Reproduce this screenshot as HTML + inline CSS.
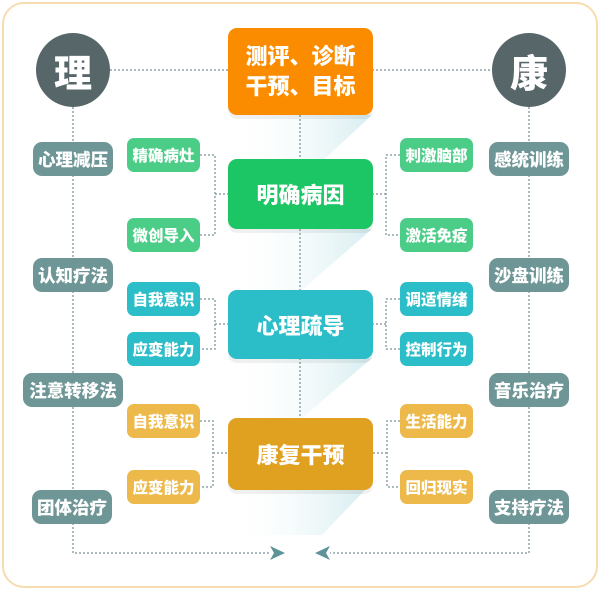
<!DOCTYPE html>
<html><head><meta charset="utf-8"><style>
body{margin:0;width:600px;height:590px;background:#fff;position:relative;overflow:hidden;font-family:"Liberation Sans","Noto Sans CJK SC",sans-serif;}
.b{position:absolute;color:#fff;font-weight:900;display:flex;align-items:center;justify-content:center;border-radius:8px;white-space:nowrap;}
.s{width:73px;height:34px;font-size:15.5px;border-radius:7px;}
.g{background:#6f9696;height:34px;font-size:17.5px;border-radius:9px;}
.big{left:228px;width:145px;font-size:22px;border-radius:9px;box-shadow:0 4px 0 rgba(0,0,0,0.06);}
</style></head><body>
<div style="position:absolute;left:2px;top:2px;width:592px;height:582px;border:2px solid #f6dcb0;border-radius:22px;"></div>
<svg width="600" height="590" style="position:absolute;left:0;top:0">
<defs><linearGradient id="sh" x1="0" y1="0" x2="1" y2="0"><stop offset="0" stop-color="#ffffff" stop-opacity="0"/><stop offset="1" stop-color="#bfe3e8" stop-opacity="0.9"/></linearGradient></defs>
<polygon points="230,115 372,115 302,180 230,180" fill="url(#sh)" opacity="0.7"/>
<polygon points="230,229 372,229 302,290 230,290" fill="url(#sh)" opacity="0.7"/>
<polygon points="230,358 372,358 302,418 230,418" fill="url(#sh)" opacity="0.7"/>
<polygon points="230,490 365,490 322,535 230,535" fill="url(#sh)" opacity="0.7"/>
<g stroke="#8fa3a8" stroke-width="1.5" stroke-dasharray="2,2" fill="none">
<path d="M110,70 H228 M372,70 H492"/>
<path d="M73,107 V553 H270 M529,107 V553 H330"/>
<path d="M300,115 V159 M300,229 V290 M300,358 V418"/>
<path d="M200,155 H215 V235 H200 M215,194 H228"/>
<path d="M200,299 H215 V349 H200 M215,324 H228"/>
<path d="M200,421 H213 V487 H200 M213,453 H228"/>
<path d="M400,155 H386 V235 H400 M386,194 H373"/>
<path d="M400,299 H386 V349 H400 M386,324 H373"/>
<path d="M400,421 H387 V487 H400 M387,453 H373"/>
</g>
<polygon points="270,546 285,553 270,560 274,553" fill="#5e9499"/>
<polygon points="330,546 315,553 330,560 326,553" fill="#5e9499"/>
</svg>
<div class="b" style="left:36px;top:33px;width:74px;height:74px;border-radius:50%;background:#566669;font-size:38px;">理</div>
<div class="b" style="left:492px;top:33px;width:74px;height:74px;border-radius:50%;background:#566669;font-size:38px;">康</div>
<div class="b big" style="top:28px;height:87px;background:#fb8c00;flex-direction:column;line-height:30px;">测评、诊断<br>干预、目标</div>
<div class="b big" style="top:159px;height:70px;background:#1cc664;">明确病因</div>
<div class="b big" style="top:290px;height:69px;background:#2bbdc8;">心理疏导</div>
<div class="b big" style="top:418px;height:72px;background:#e0a020;">康复干预</div>
<div class="b s" style="left:127px;top:138px;background:#4ccd87">精确病灶</div>
<div class="b s" style="left:127px;top:218px;background:#4ccd87">微创导入</div>
<div class="b s" style="left:127px;top:282px;background:#2bbdc8">自我意识</div>
<div class="b s" style="left:127px;top:332px;background:#2bbdc8">应变能力</div>
<div class="b s" style="left:127px;top:404px;background:#ecb94a">自我意识</div>
<div class="b s" style="left:127px;top:470px;background:#ecb94a">应变能力</div>
<div class="b s" style="left:400px;top:138px;background:#4ccd87">刺激脑部</div>
<div class="b s" style="left:400px;top:218px;background:#4ccd87">激活免疫</div>
<div class="b s" style="left:400px;top:282px;background:#2bbdc8">调适情绪</div>
<div class="b s" style="left:400px;top:332px;background:#2bbdc8">控制行为</div>
<div class="b s" style="left:400px;top:404px;background:#ecb94a">生活能力</div>
<div class="b s" style="left:400px;top:470px;background:#ecb94a">回归现实</div>
<div class="b g" style="left:33px;top:142px;width:80px;">心理减压</div>
<div class="b g" style="left:33px;top:258px;width:80px;">认知疗法</div>
<div class="b g" style="left:23px;top:373px;width:100px;">注意转移法</div>
<div class="b g" style="left:32px;top:490px;width:80px;">团体治疗</div>
<div class="b g" style="left:489px;top:142px;width:80px;">感统训练</div>
<div class="b g" style="left:489px;top:258px;width:80px;">沙盘训练</div>
<div class="b g" style="left:489px;top:373px;width:80px;">音乐治疗</div>
<div class="b g" style="left:489px;top:490px;width:80px;">支持疗法</div>
</body></html>
